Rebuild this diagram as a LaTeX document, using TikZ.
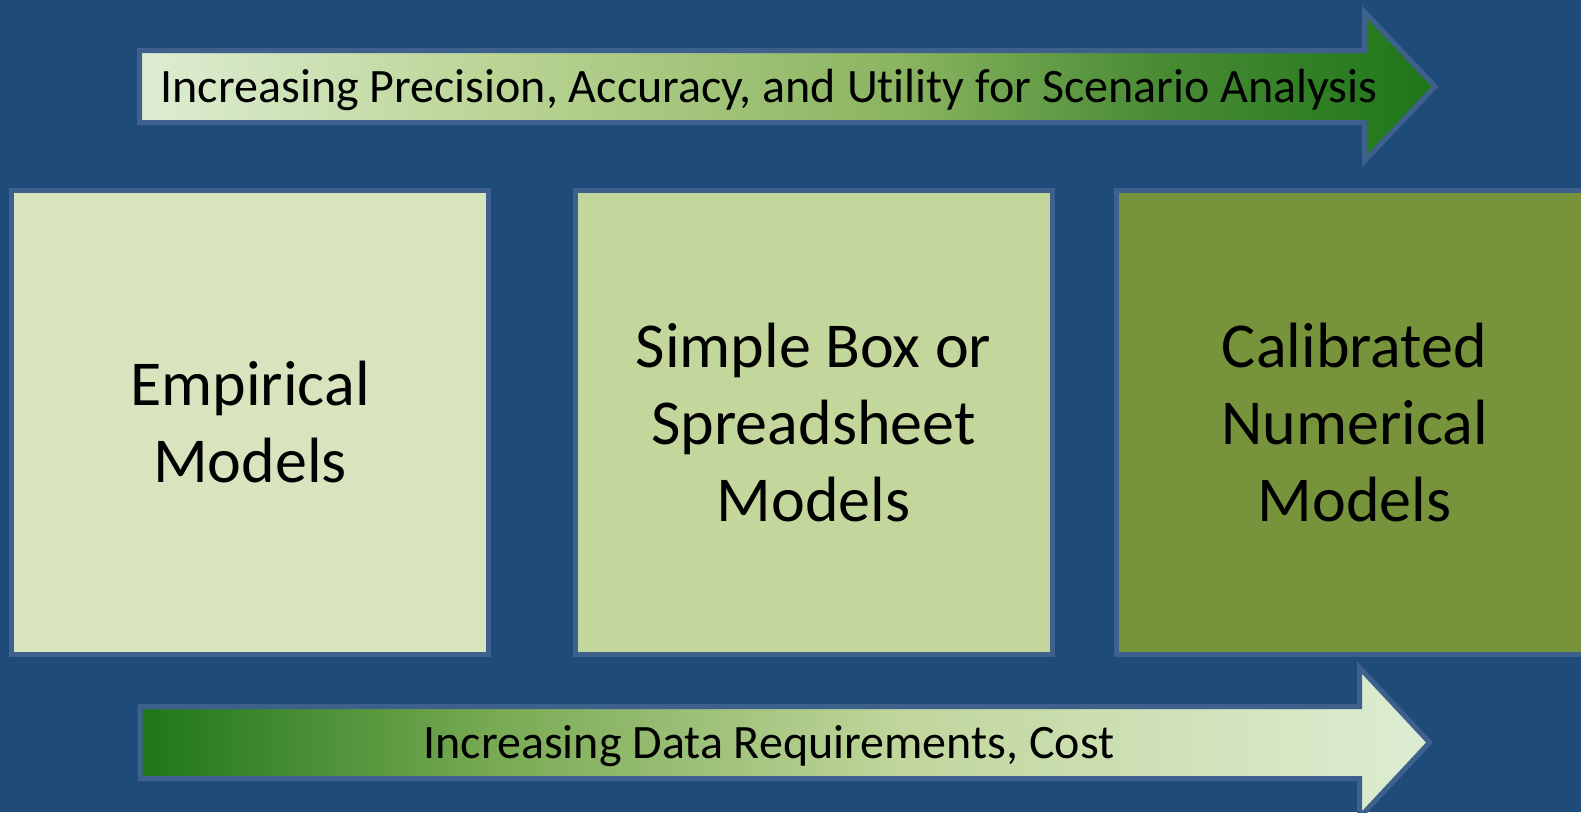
\documentclass[tikz,border=0pt]{standalone}
\usepackage{fontspec}
\setmainfont{Carlito}[Ligatures=NoCommon]
\usepackage{xcolor}
\usepackage{tikz}

\definecolor{bgblue}{RGB}{31,75,122}
\definecolor{edgeblue}{RGB}{62,96,141}
\definecolor{oliveA}{HTML}{D7E4BD}
\definecolor{oliveB}{HTML}{C3D69B}
\definecolor{oliveC}{HTML}{77933C}
\definecolor{greenLight}{HTML}{DDEDD3}
\definecolor{greenPale}{HTML}{BAD494}
\definecolor{greenMid}{HTML}{8AB460}
\definecolor{greenDeep}{HTML}{4A8C35}
\definecolor{greenDark}{HTML}{1E7619}
\definecolor{greenSoft}{HTML}{7AAB55}
\definecolor{greenWash}{HTML}{C0D69C}

\pgfdeclarehorizontalshading{risegrad}{100bp}{color(0bp)=(greenLight); color(25bp)=(greenLight);
  color(39bp)=(greenPale); color(54.5bp)=(greenMid); color(64bp)=(greenDeep);
  color(75bp)=(greenDark); color(100bp)=(greenDark)}
\pgfdeclarehorizontalshading{costgrad}{100bp}{color(0bp)=(greenDark); color(25bp)=(greenDark);
  color(39bp)=(greenSoft); color(54.5bp)=(greenWash);
  color(75bp)=(greenLight); color(100bp)=(greenLight)}

\tikzset{
  modelbox/.style={draw=edgeblue, line width=5pt, minimum width=477pt, minimum height=464pt,
    inner sep=0pt, align=center, font=\fontsize{64}{77}\selectfont},
  bandarrow/.style={draw=edgeblue, line width=5pt, line join=miter},
  bandtext/.style={anchor=base, inner sep=0pt, font=\fontsize{48}{56}\selectfont}
}

\begin{document}
\begin{tikzpicture}[x=1pt,y=-1pt]
				\useasboundingbox (0,0) rectangle (1581,812);
				\clip (0,0) rectangle (1581,812);
				\fill[bgblue] (0,0) rectangle (1581,812);

				% top arrow
				\path[bandarrow, shading=risegrad] (139.5,50.5) -- (1364.5,50.5) -- (1364.5,12)
					-- (1435,86.5) -- (1364.5,161) -- (1364.5,122.5) -- (139.5,122.5) -- cycle;
				\node[bandtext] (precision) at (769,102) {Increasing Precision, Accuracy, and Utility for Scenario Analysis};

				% model boxes
				\node[modelbox, fill=oliveA] (empirical) at (250,422.5) {Empirical\\Models};
				\node[modelbox, fill=oliveB] (simplebox) at (813.5,422.5) {Simple Box or\\Spreadsheet\\Models};
				\node[modelbox, fill=oliveC] (calibrated) at (1354.5,422.5) {Calibrated\\Numerical\\Models};

				% bottom arrow
				\path[bandarrow, shading=costgrad] (140,706.5) -- (1359.5,706.5) -- (1359.5,667.5)
					-- (1429.5,742.5) -- (1359.5,817.5) -- (1359.5,778.5) -- (140,778.5) -- cycle;
				\node[bandtext] (cost) at (769,758) {Increasing Data Requirements, Cost};
			\end{tikzpicture}
\end{document}
